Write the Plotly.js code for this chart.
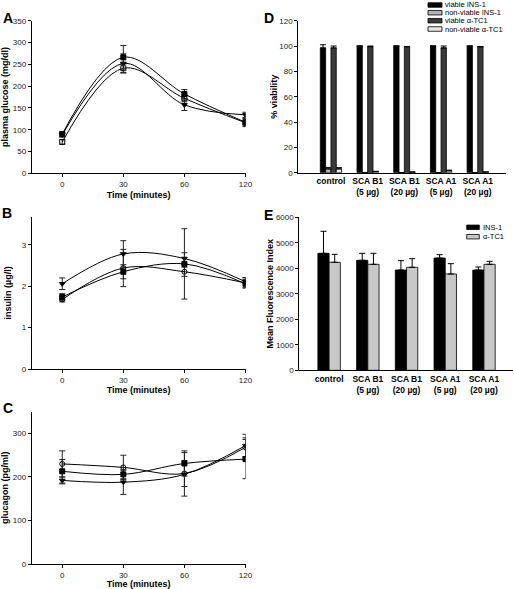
<!DOCTYPE html>
<html>
<head>
<meta charset="utf-8">
<script src="https://cdn.plot.ly/plotly-3.0.1.min.js"></script>
<style>html,body{margin:0;padding:0;background:#fff}#chart{width:514px;height:589px}</style>
</head>
<body>
<div id="chart"></div>
<script>
// ---------- DATA ----------
const times = ["0", "30", "60", "120"];

// Panel A: plasma glucose (mg/dl)
const gluFilledSq = [90, 266, 182, 117];
const gluFilledSqErr = [5, 27, 10, 8];
const gluOpen = [72, 241, 172, 116];
const gluOpenErr = [5, 10, 8, 9];
const gluTri = [88, 252, 157, 134];
const gluTriErr = [5, 22, 13, 6];

// Panel B: insulin (µg/l)
const insFilledSq = [1.74, 2.35, 2.54, 2.06];
const insFilledSqErr = [0.08, 0.17, 0.85, 0.10];
const insOpen = [1.68, 2.44, 2.35, 2.08];
const insOpenErr = [0.06, 0.45, 0.11, 0.12];
const insTri = [2.06, 2.78, 2.67, 2.11];
const insTriErr = [0.14, 0.32, 0.14, 0.10];

// Panel C: glucagon (pg/ml)
const gcgFilledSq = [213, 206, 231, 241];
const gcgFilledSqErr = [27, 10, 29, 45];
const gcgOpen = [230, 222, 208, 268];
const gcgOpenErr = [30, 28, 30, 22];
const gcgTri = [192, 188, 206, 272];
const gcgTriErr = [8, 28, 50, 26];

// Panel D: % viability
const groups = ["control", "SCA B1<br>(5 µg)", "SCA B1<br>(20 µg)", "SCA A1<br>(5 µg)", "SCA A1<br>(20 µg)"];
const viabilityNames = ["viable INS-1", "non-viable INS-1", "viable α-TC1", "non-viable α-TC1"];
const viableINS = [98.5, 100, 100, 100, 100];
const viableINSErr = [2.5, 0, 0, 0, 0];
const nonviableINS = [3, 0, 0, 0, 0];
const nonviableINSErr = [1, 0, 0, 0, 0];
const viableTC = [98.5, 99.5, 99.5, 98.5, 99.5];
const viableTCErr = [1.5, 0.5, 0, 1.5, 0];
const nonviableTC = [3, 1, 0.5, 1.5, 0.5];
const nonviableTCErr = [1, 0, 0, 0.5, 0];

// Panel E: Mean Fluorescence Index
const mfiNames = ["INS-1", "α-TC1"];
const mfiINS = [4588, 4314, 3933, 4404, 3933];
const mfiINSErr = [863, 274, 367, 131, 119];
const mfiTC = [4235, 4157, 4039, 3776, 4157];
const mfiTCErr = [314, 431, 339, 406, 118];

// ---------- HELPERS ----------
const W = 514, H = 589;
const X = p => p / W;
const Y = p => 1 - p / H;
const FONT = "Arial, 'Liberation Sans', sans-serif";

function lineTrace(y, err, sym, xa, ya) {
  return {
    type: "scatter", mode: "lines+markers", x: times, y: y,
    xaxis: xa, yaxis: ya, showlegend: false,
    line: {color: "#000", width: 1, shape: "spline", smoothing: 1},
    marker: {symbol: sym, size: 5, color: "#000", line: {color: "#000", width: 1}},
    error_y: {type: "data", array: err, visible: true, color: "#222", thickness: 1, width: 3}
  };
}
function barTrace(y, err, color, xa, ya, name) {
  return {
    type: "bar", x: groups, y: y, name: name, xaxis: xa, yaxis: ya, showlegend: false,
    marker: {color: color, line: {color: "#000", width: 0.8}},
    error_y: {type: "data", symmetric: false, array: err, arrayminus: err.map(() => 0),
              visible: true, color: "#000", thickness: 1, width: 3}
  };
}

const traces = [
  lineTrace(gluOpen, gluOpenErr, "square-open", "x", "y"),
  lineTrace(gluTri, gluTriErr, "triangle-down", "x", "y"),
  lineTrace(gluFilledSq, gluFilledSqErr, "square", "x", "y"),

  lineTrace(insOpen, insOpenErr, "circle-open", "x2", "y2"),
  lineTrace(insTri, insTriErr, "triangle-down", "x2", "y2"),
  lineTrace(insFilledSq, insFilledSqErr, "square", "x2", "y2"),

  lineTrace(gcgOpen, gcgOpenErr, "circle-open", "x3", "y3"),
  lineTrace(gcgTri, gcgTriErr, "triangle-down", "x3", "y3"),
  lineTrace(gcgFilledSq, gcgFilledSqErr, "square", "x3", "y3"),
];

const dColors = ["#000000", "#b4b4b4", "#3a3a3a", "#e8e8e8"];
const dVals = [viableINS, nonviableINS, viableTC, nonviableTC];
const dErrs = [viableINSErr, nonviableINSErr, viableTCErr, nonviableTCErr];
dVals.forEach((v, i) => traces.push(barTrace(v, dErrs[i], dColors[i], "x4", "y4", viabilityNames[i])));

const eColors = ["#000000", "#c8c8c8"];
traces.push(barTrace(mfiINS, mfiINSErr, eColors[0], "x5", "y5", mfiNames[0]));
traces.push(barTrace(mfiTC, mfiTCErr, eColors[1], "x5", "y5", mfiNames[1]));

function xAxisLine(dom, anchor, range, title) {
  const a = {
    domain: dom, anchor: anchor, type: "category", range: range,
    showline: true, linecolor: "#000", linewidth: 1, mirror: false,
    showgrid: false, zeroline: false, fixedrange: true,
    ticks: "outside", ticklen: 3, tickcolor: "#000", tickwidth: 1,
    tickfont: {family: FONT, size: 8, color: "#222"}
  };
  if (title) a.title = {text: title, font: {family: FONT, size: 9, color: "#000", weight: "bold"}, standoff: 3};
  return a;
}
function yAxis(dom, anchor, range, dtick, title, standoff) {
  return {
    domain: dom, anchor: anchor, range: range, dtick: dtick,
    showline: true, linecolor: "#000", linewidth: 1,
    showgrid: false, zeroline: false, fixedrange: true,
    ticks: "outside", ticklen: 3, tickcolor: "#000", tickwidth: 1,
    tickfont: {family: FONT, size: 8, color: "#222"},
    title: {text: title, font: {family: FONT, size: 9, color: "#000", weight: "bold"}, standoff: standoff}
  };
}

const xdomL = [X(31.7), X(245.5)];
const layout = {
  width: W, height: H, margin: {l: 0, r: 0, t: 0, b: 0},
  paper_bgcolor: "#fff", plot_bgcolor: "#fff",
  showlegend: false, barmode: "group", bargap: 0.42, bargroupgap: 0,
  font: {family: FONT},
  xaxis: xAxisLine(xdomL, "y", [-0.5, 3], "Time (minutes)"),
  yaxis: yAxis([Y(173.3), Y(20.7)], "x", [0, 350], 50, "plasma glucose (mg/dl)", 4),
  xaxis2: xAxisLine(xdomL, "y2", [-0.5, 3], "Time (minutes)"),
  yaxis2: yAxis([Y(369), Y(216.7)], "x2", [0, 3.68], 1, "insulin (µg/l)", 8),
  xaxis3: xAxisLine(xdomL, "y3", [-0.5, 3], "Time (minutes)"),
  yaxis3: yAxis([Y(564), Y(411.7)], "x3", [0, 350], 100, "glucagon (pg/ml)", 6),
  xaxis4: Object.assign(xAxisLine([X(298.3), X(506)], "y4", [-0.89, 4.77]),
    {ticks: "", tickfont: {family: FONT, size: 8.5, color: "#000", weight: "bold"}}),
  yaxis4: yAxis([Y(172.7), Y(20.7)], "x4", [0, 120], 20, "% viability", 0),
  xaxis5: Object.assign(xAxisLine([X(299.3), X(513)], "y5", [-0.77, 4.75]),
    {ticks: "", tickfont: {family: FONT, size: 8.5, color: "#000", weight: "bold"}}),
  yaxis5: yAxis([Y(370.3), Y(217.3)], "x5", [0, 6000], 1000, "Mean Fluorescence Index", 0),
  shapes: [], annotations: []
};

// Panel letters
[["A", 7.5, 18], ["B", 7, 213], ["C", 7.5, 408], ["D", 268.5, 18], ["E", 268.5, 215]].forEach(([t, x, y]) => {
  layout.annotations.push({text: t, x: X(x), y: Y(y), xref: "paper", yref: "paper",
    showarrow: false, xanchor: "center", yanchor: "middle",
    font: {family: FONT, size: 14, color: "#000", weight: "bold"}});
});

// Custom compact legends
function addLegend(names, colors, x0, x1, rowY, textX, h) {
  names.forEach((n, i) => {
    layout.shapes.push({type: "rect", xref: "paper", yref: "paper",
      x0: X(x0), x1: X(x1), y0: Y(rowY[i] + h / 2), y1: Y(rowY[i] - h / 2),
      fillcolor: colors[i], line: {color: "#000", width: 0.8}});
    layout.annotations.push({text: n, x: X(textX), y: Y(rowY[i]), xref: "paper", yref: "paper",
      showarrow: false, xanchor: "left", yanchor: "middle",
      font: {family: FONT, size: 7.5, color: "#000"}});
  });
}
addLegend(viabilityNames, dColors, 428, 442, [5, 12.7, 20.7, 29], 443, 4.5);
addLegend(mfiNames, eColors, 466.7, 479.3, [227.3, 236.7], 480.5, 4.5);

Plotly.newPlot("chart", traces, layout, {staticPlot: true, displayModeBar: false});
</script>
</body>
</html>
